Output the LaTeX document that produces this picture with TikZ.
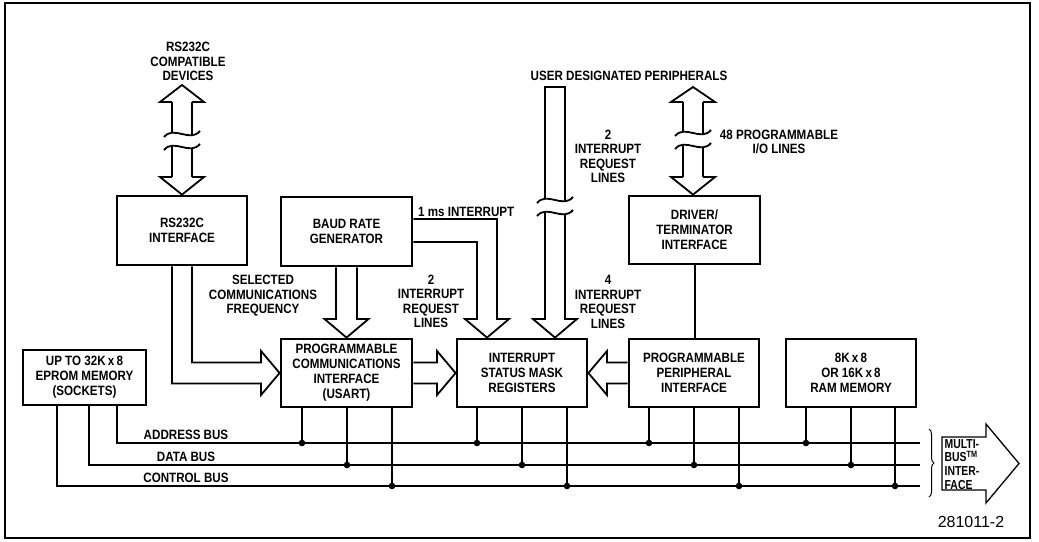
\documentclass[tikz,border=0pt]{standalone}
\usepackage{fontspec}
\setmainfont{Liberation Sans}[FakeStretch=0.86]
\newfontfamily\mbfont{Liberation Sans}[FakeStretch=0.8]
\newfontfamily\idfont{Liberation Sans}
\usetikzlibrary{decorations.pathreplacing}
\newcommand\dglbl{\bfseries\fontsize{13.5}{14.5}\selectfont}
\newcommand\dgbox{\bfseries\fontsize{13.5}{15}\selectfont}
\begin{document}
\begin{tikzpicture}[x=1pt,y=-1pt,
  box/.style={draw, line width=2.8pt, align=center, font=\dgbox, inner sep=2pt},
  lbl/.style={align=center, font=\dglbl, inner sep=0pt},
  bus/.style={line width=2pt},
  hol/.style={line width=1.8pt, line join=miter},
  brk/.pic={\draw[line width=1.8pt] (-18,3) .. controls (-8,-9) and (8,9) .. (18,-3);}
]
\useasboundingbox (0,0) rectangle (1039,541);
\draw[line width=1.3pt] (5,3) rectangle (1030,538);

% boxes
\node[box, minimum width=130pt, minimum height=69pt] (rs) at (182,230.5) {RS232C\\INTERFACE};
\node[box, minimum width=131pt, minimum height=69pt] (baud) at (346.5,231.5) {BAUD RATE\\GENERATOR};
\node[box, minimum width=131pt, minimum height=68pt] (drv) at (694.5,230) {DRIVER/\\TERMINATOR\\INTERFACE};
\node[box, minimum width=123pt, minimum height=55pt] (eprom) at (84.5,377.5) {UP TO 32K\,x\,8\\EPROM MEMORY\\(SOCKETS)};
\node[box, minimum width=131pt, minimum height=68pt] (usart) at (346.5,373) {PROGRAMMABLE\\COMMUNICATIONS\\INTERFACE\\(USART)};
\node[box, minimum width=130pt, minimum height=68pt] (ism) at (522,373) {INTERRUPT\\STATUS MASK\\REGISTERS};
\node[box, minimum width=130pt, minimum height=68pt] (ppi) at (694,373) {PROGRAMMABLE\\PERIPHERAL\\INTERFACE};
\node[box, minimum width=130pt, minimum height=68pt] (ram) at (851,373) {8K\,x\,8\\OR 16K\,x\,8\\RAM MEMORY};

% labels
\node[lbl] (lrs) at (188,61.5) {RS232C\\COMPATIBLE\\DEVICES};
\node[lbl] (lsel) at (263,296) {SELECTED\\COMMUNICATIONS\\FREQUENCY};
\node[lbl, anchor=west] (lms) at (418,212) {1 ms INTERRUPT};
\node[lbl] (lirq1) at (431,301.5) {2\\INTERRUPT\\REQUEST\\LINES};
\node[lbl] (luser) at (629,76) {USER DESIGNATED PERIPHERALS};
\node[lbl] (lirq2) at (608,156.5) {2\\INTERRUPT\\REQUEST\\LINES};
\node[lbl] (lirq4) at (608,302) {4\\INTERRUPT\\REQUEST\\LINES};
\node[lbl] (lio) at (779,142) {48 PROGRAMMABLE\\I/O LINES};
\node[lbl] (lab) at (186,435) {ADDRESS BUS};
\node[lbl] (ldb) at (186,457) {DATA BUS};
\node[lbl] (lcb) at (186,478) {CONTROL BUS};
\node[font=\idfont\fontsize{16}{18}\selectfont, inner sep=0pt] (fid) at (971,522) {281011-2};

% RS232C double arrow
\draw[hol] (172,102) -- (160,102) -- (182,85) -- (204,102) -- (192,102);
\draw[hol] (172,102) -- (172,132);
\draw[hol] (192,102) -- (192,136);
\pic at (182,134) {brk};
\pic at (182,147) {brk};
\draw[hol] (172,145) -- (172,177);
\draw[hol] (192,149) -- (192,177);
\draw[hol] (172,177) -- (160,177) -- (rs.north) -- (204,177) -- (192,177);

% driver double arrow
\draw[hol] (683,102) -- (671,102) -- (693,87) -- (715,102) -- (703,102);
\draw[hol] (683,102) -- (683,131);
\draw[hol] (703,102) -- (703,135);
\pic at (693,133) {brk};
\pic at (693,146) {brk};
\draw[hol] (683,144) -- (683,177);
\draw[hol] (703,148) -- (703,177);
\draw[hol] (683,177) -- (671,177) -- (drv.north -| 693,0) -- (715,177) -- (703,177);

% user designated peripherals shaft
\draw[hol] (545,198) -- (545,87) -- (565,87) -- (565,202);
\pic at (555,200) {brk};
\pic at (555,213) {brk};
\draw[hol] (545,211) -- (545,319) -- (533,319) -- (ism.north -| 555,0) -- (577,319) -- (565,319) -- (565,215);

% RS232C -> USART
\draw[hol] (rs.south -| 172,0) -- (172,383.5) -- (261,383.5) -- (261,395) -- (usart.west) -- (261,351) -- (261,362.5) -- (192,362.5) -- (rs.south -| 192,0);
% Baud -> USART
\draw[hol] (baud.south -| 336,0) -- (336,319) -- (324.5,319) -- (usart.north) -- (368.5,319) -- (357,319) -- (baud.south -| 357,0);
% USART -> ISM
\draw[hol] (usart.east |- 0,362.5) -- (437,362.5) -- (437,351) -- (ism.west) -- (437,395) -- (437,383.5) -- (usart.east |- 0,383.5);
% Baud -> ISM (1 ms)
\draw[hol] (baud.east |- 0,219) -- (497,219) -- (497,319) -- (509,319) -- (ism.north -| 487,0) -- (465,319) -- (477,319) -- (477,242) -- (baud.east |- 0,242);
% PPI -> ISM
\draw[hol] (ppi.west |- 0,362.5) -- (607,362.5) -- (607,351) -- (ism.east) -- (607,395) -- (607,383.5) -- (ppi.west |- 0,383.5);
% Driver -> PPI
\draw[bus] (drv.south -| 695,0) -- (ppi.north -| 695,0);

% buses
\coordinate (ae) at (920,443);
\coordinate (de) at (920,465);
\coordinate (ce) at (920,486);
\draw[bus] (eprom.south -| 117,0) -- (117,443) -- (ae);
\draw[bus] (eprom.south -| 89,0) -- (89,465) -- (de);
\draw[bus] (eprom.south -| 57,0) -- (57,486) -- (ce);
\foreach \n/\a/\d/\c in {usart/302/347/392, ism/477/522/567, ppi/649/694/739, ram/806/851/895}{
  \draw[bus] (\n.south -| \a,0) -- (ae -| \a,0);
  \fill (ae -| \a,0) circle[radius=3.3pt];
  \draw[bus] (\n.south -| \d,0) -- (de -| \d,0);
  \fill (de -| \d,0) circle[radius=3.3pt];
  \draw[bus] (\n.south -| \c,0) -- (ce -| \c,0);
  \fill (ce -| \c,0) circle[radius=3.3pt];
}

% brace and Multibus interface
\draw[line width=1pt, decorate, decoration={brace, amplitude=5pt}] (929,429) -- (929,497);
\draw[line width=1.3pt] (942,437) -- (986,437) -- (986,424) -- (1019,463.5) -- (986,503) -- (986,490) -- (942,490) -- cycle;
\node[anchor=north west, align=left, inner sep=0pt, font=\mbfont\bfseries\fontsize{13}{13.8}\selectfont] (mb) at (944.5,439) {MULTI-\\BUS\textsuperscript{TM}\\INTER-\\FACE};
\end{tikzpicture}
\end{document}
